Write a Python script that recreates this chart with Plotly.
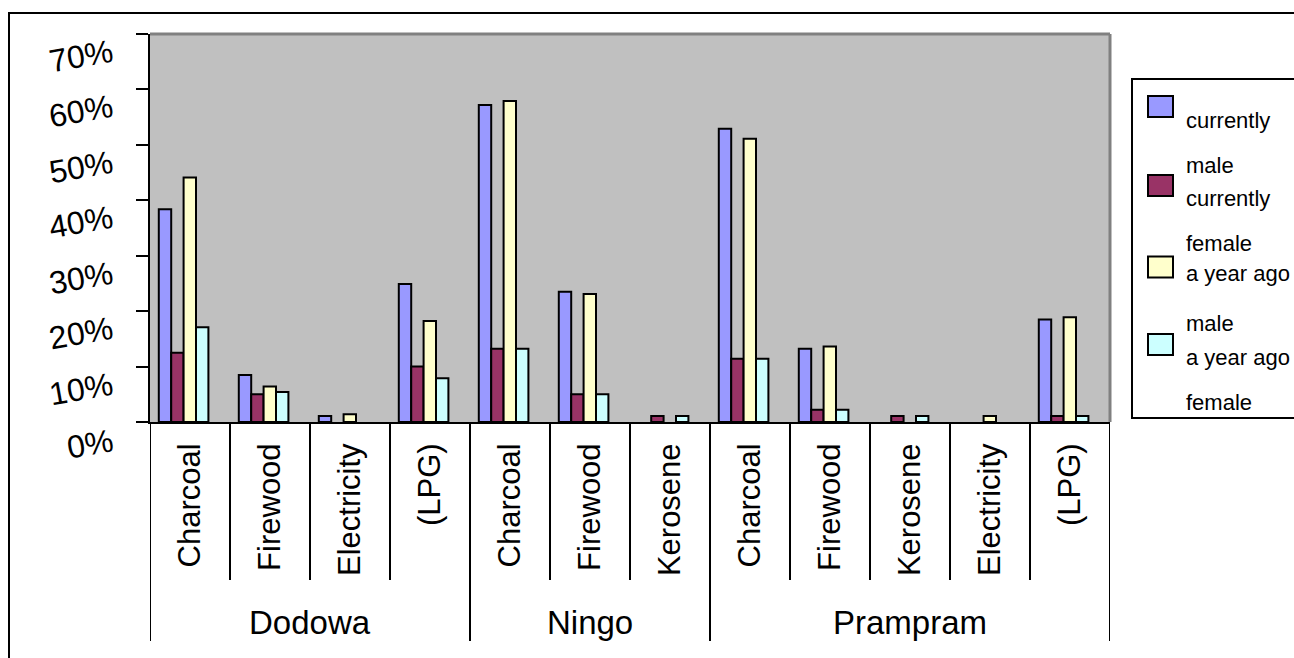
import plotly.graph_objects as go

# ---- data -------------------------------------------------------------
groups = ["Dodowa", "Ningo", "Prampram"]
group_fuels = [
    ["Charcoal", "Firewood", "Electricity", "(LPG)"],
    ["Charcoal", "Firewood", "Kerosene"],
    ["Charcoal", "Firewood", "Kerosene", "Electricity", "(LPG)"],
]
categories = [f for fuels in group_fuels for f in fuels]

series_names = ["currently male", "currently female",
                "a year ago male", "a year ago female"]
legend_lines = [["currently", "male"], ["currently", "female"],
                ["a year ago", "male"], ["a year ago", "female"]]

currently_male = [38.4, 8.5, 1.1, 24.9, 57.2, 23.5, 0.0, 52.9, 13.2, 0.0, 0.0, 18.5]
currently_female = [12.5, 5.0, 0.0, 10.0, 13.2, 5.0, 1.1, 11.4, 2.2, 1.1, 0.0, 1.1]
year_ago_male = [44.1, 6.4, 1.4, 18.2, 57.9, 23.1, 0.0, 51.1, 13.6, 0.0, 1.1, 18.9]
year_ago_female = [17.1, 5.4, 0.0, 7.9, 13.2, 5.0, 1.1, 11.4, 2.2, 1.1, 0.0, 1.1]

y_ticks = [0, 10, 20, 30, 40, 50, 60, 70]

# ---- styling ----------------------------------------------------------
colors = ["#9999FF", "#993366", "#FFFFCC", "#CCFFFF"]
FONT = "Liberation Sans, Arial, sans-serif"

W, H = 1294, 658
PL, PR, PT, PB = 150, 1110, 34, 422          # plot area in pixels


def px_x(p):
    return (p - PL) / (PR - PL)


def px_y(p):
    return (PB - p) / (PB - PT)


series = [currently_male, currently_female, year_ago_male, year_ago_female]
xs = list(range(len(categories)))
bar_w = 0.155
start = -0.39

fig = go.Figure()
for i, (name, vals) in enumerate(zip(series_names, series)):
    # empty categories get no bar at all (not even an outline)
    shown = [v if v > 0 else None for v in vals]
    fig.add_trace(go.Bar(
        x=xs, y=shown, name=name,
        width=bar_w, offset=start + i * bar_w,
        marker=dict(color=colors[i], line=dict(color="black", width=2)),
        showlegend=False,
    ))

shapes = []
annotations = []

# outer chart frame
shapes.append(dict(type="rect", xref="paper", yref="paper",
                   x0=px_x(9), x1=px_x(1310), y0=px_y(680), y1=px_y(13),
                   line=dict(color="black", width=2), fillcolor="rgba(0,0,0,0)",
                   layer="below"))

# plot area grey frame (top and right)
shapes.append(dict(type="line", xref="paper", yref="paper",
                   x0=0, x1=1, y0=1, y1=1, line=dict(color="#808080", width=3)))
shapes.append(dict(type="line", xref="paper", yref="paper",
                   x0=1, x1=1, y0=0, y1=1, line=dict(color="#808080", width=3)))

# category dividers below the axis
group_edges = [0]
for fuels in group_fuels:
    group_edges.append(group_edges[-1] + len(fuels))
for k in range(len(categories) + 1):
    bottom = 641 if k in group_edges else 580
    shapes.append(dict(type="line", xref="x", yref="paper",
                       x0=k - 0.5, x1=k - 0.5, y0=0, y1=px_y(bottom),
                       line=dict(color="black", width=2)))

# group labels
for g, a, b in zip(groups, group_edges[:-1], group_edges[1:]):
    annotations.append(dict(text=g, xref="x", yref="paper",
                            x=(a + b - 1) / 2, y=px_y(622),
                            xanchor="center", yanchor="middle", showarrow=False,
                            font=dict(family=FONT, size=33, color="black")))

# y tick labels, slightly tilted
for v in y_ticks:
    annotations.append(dict(text=f"{v}%", xref="paper", yref="y",
                            x=0, y=v, xanchor="right", yanchor="middle",
                            xshift=-32, yshift=-22, textangle=-10,
                            showarrow=False,
                            font=dict(family=FONT, size=32, color="black")))

# legend box
shapes.append(dict(type="rect", xref="paper", yref="paper",
                   x0=px_x(1132), x1=px_x(1320), y0=px_y(418), y1=px_y(79),
                   line=dict(color="black", width=2), fillcolor="white"))
square_centers = [106.5, 185.5, 267, 344.5]
line_centers = [[120, 165], [198, 243], [273, 323], [357, 402]]
for i in range(len(series_names)):
    yc = square_centers[i]
    shapes.append(dict(type="rect", xref="paper", yref="paper",
                       x0=px_x(1148), x1=px_x(1173),
                       y0=px_y(yc + 10.5), y1=px_y(yc - 10.5),
                       line=dict(color="black", width=2), fillcolor=colors[i]))
    for txt, ly in zip(legend_lines[i], line_centers[i]):
        annotations.append(dict(text=txt, xref="paper", yref="paper",
                                x=px_x(1184), y=px_y(ly),
                                xanchor="left", yanchor="middle", showarrow=False,
                                font=dict(family=FONT, size=22, color="black")))

fig.update_layout(
    width=W, height=H,
    margin=dict(l=PL, r=W - PR, t=PT, b=H - PB, pad=0),
    paper_bgcolor="white",
    plot_bgcolor="#C0C0C0",
    barmode="overlay",
    shapes=shapes,
    annotations=annotations,
    font=dict(family=FONT, color="black"),
)
fig.update_xaxes(
    range=[-0.5, len(categories) - 0.5],
    tickmode="array", tickvals=xs, ticktext=categories,
    tickangle=-90, ticks="", ticklabelstandoff=7,
    tickfont=dict(family=FONT, size=31, color="black"),
    showline=True, linecolor="black", linewidth=2,
    showgrid=False, zeroline=False, fixedrange=True,
)
fig.update_yaxes(
    range=[0, 70], tickmode="array", tickvals=y_ticks,
    showticklabels=False, ticks="outside", ticklen=12, tickwidth=2,
    tickcolor="black",
    showline=True, linecolor="black", linewidth=2,
    showgrid=False, zeroline=False, fixedrange=True,
)

fig.write_html("out.html", config={"displayModeBar": False})
